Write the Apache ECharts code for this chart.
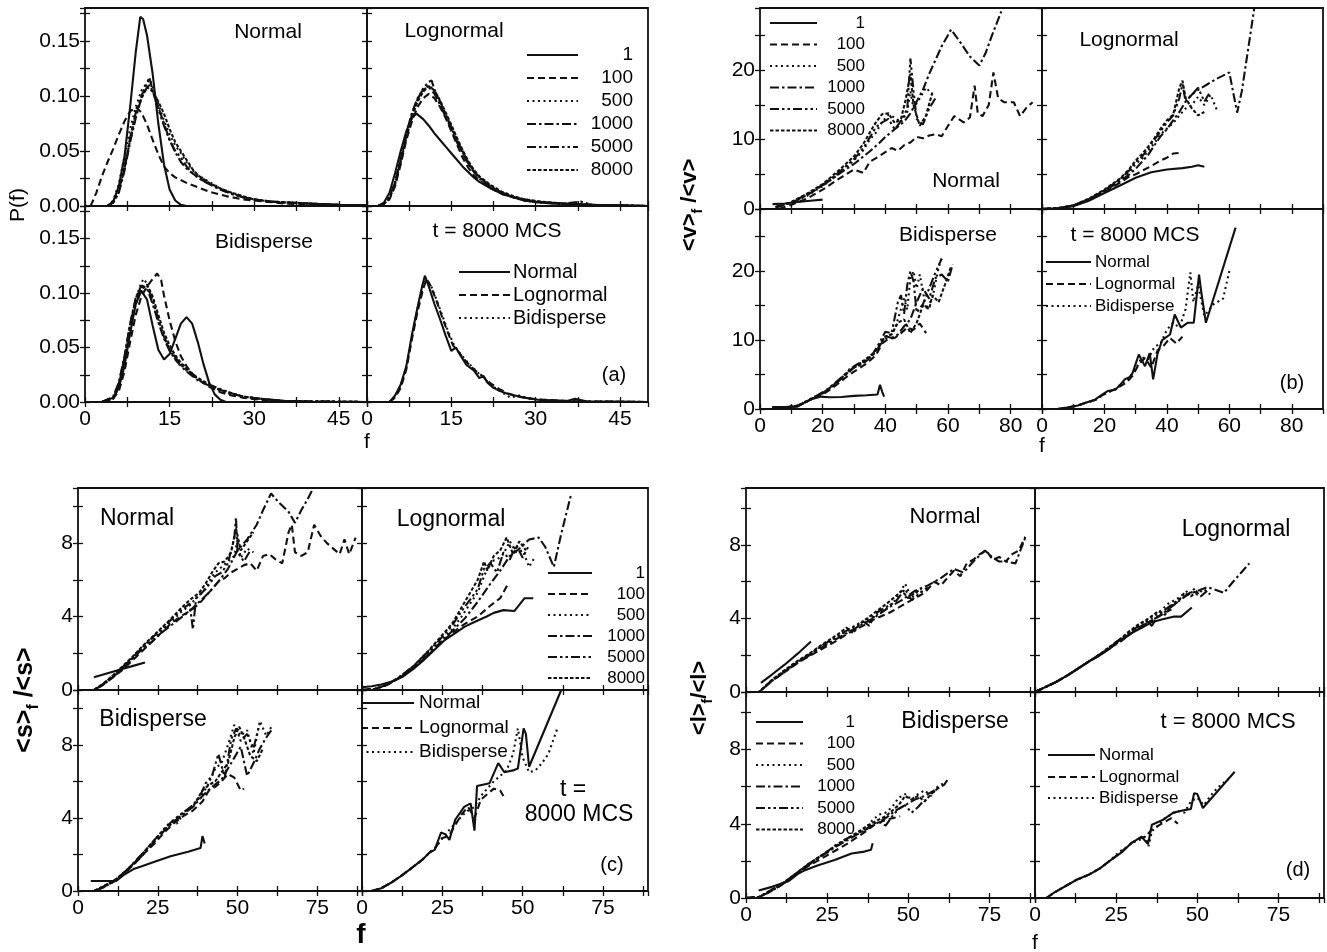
<!DOCTYPE html>
<html>
<head>
<meta charset="utf-8">
<title>Face-number dependence, panels a-d</title>
<script src="https://cdn.jsdelivr.net/npm/echarts/dist/echarts.min.js"></script>
<style>
  html, body { margin: 0; padding: 0; background: #fff; }
  #chart { width: 1327px; height: 952px; }
</style>
</head>
<body>
<div id="chart"></div>
<script>
  const FONT = '"Liberation Sans", Arial, sans-serif';

  const timeNames = ['1', '100', '500', '1000', '5000', '8000'];
  const shapeNames = ['Normal', 'Lognormal', 'Bidisperse'];

  // ---- panel (a): P(f) ----
  const aNorm1 = [[0,0],[4,0],[5,0.004],[6,0.018],[7,0.045],[8,0.09],[9,0.14],[9.8,0.172],[10.3,0.17],[11,0.155],[12,0.12],[13,0.075],[14,0.038],[15,0.015],[16,0.005],[17,0.001],[18,0],[50,0]];
  const aNorm100 = [[1,0],[2,0.012],[3,0.027],[4,0.04],[5,0.052],[6,0.065],[7,0.077],[8,0.086],[9,0.09],[10,0.085],[11,0.074],[12,0.06],[13,0.047],[14,0.036],[15,0.03],[16,0.026],[18,0.021],[20,0.017],[22,0.013],[25,0.009],[28,0.006],[32,0.004],[36,0.002],[40,0.0015],[45,0.001],[50,0.0005]];
  const aNorm500 = [[4,0],[5,0.005],[6,0.02],[7,0.045],[8,0.07],[9,0.09],[10,0.105],[11,0.112],[11.5,0.115],[12,0.108],[13,0.093],[14,0.078],[15,0.065],[16,0.055],[17,0.048],[18,0.04],[19,0.033],[20,0.028],[22,0.022],[24,0.016],[26,0.012],[28,0.008],[30,0.006],[33,0.004],[36,0.003],[40,0.002],[45,0.001],[50,0.0005]];
  const aNorm1000 = [[4,0],[5,0.003],[6,0.012],[7,0.032],[8,0.058],[9,0.08],[10,0.098],[11,0.108],[11.5,0.11],[12,0.104],[13,0.09],[14,0.075],[15,0.06],[16,0.049],[17,0.04],[18,0.034],[19,0.03],[20,0.026],[22,0.02],[24,0.015],[26,0.011],[28,0.008],[30,0.006],[33,0.004],[36,0.003],[40,0.002],[45,0.001],[50,0.0005]];
  const aNorm5000 = [[4,0],[5,0.004],[6,0.015],[7,0.036],[8,0.062],[9,0.085],[10,0.1],[11,0.112],[11.4,0.117],[12,0.105],[13,0.088],[14,0.073],[15,0.06],[16,0.05],[17,0.044],[18,0.036],[19,0.03],[20,0.026],[22,0.02],[24,0.015],[26,0.011],[28,0.008],[30,0.006],[33,0.004],[37,0.003],[41,0.002],[45,0.001],[50,0.0005]];
  const aNorm8000 = [[4,0],[5,0.003],[6,0.013],[7,0.034],[8,0.06],[9,0.083],[10,0.098],[11,0.108],[12,0.104],[13,0.095],[14,0.084],[15,0.07],[16,0.058],[17,0.05],[18,0.042],[19,0.034],[20,0.028],[22,0.021],[24,0.016],[26,0.012],[28,0.009],[30,0.006],[33,0.004],[37,0.003],[41,0.002],[45,0.001],[50,0.0005]];

  const aLog1 = [[0,0],[2,0],[3,0.003],[4,0.012],[5,0.03],[6,0.05],[7,0.068],[8,0.08],[8.8,0.084],[10,0.079],[11,0.073],[12,0.066],[13,0.06],[14,0.054],[15,0.048],[16,0.042],[17,0.036],[18,0.031],[19,0.026],[20,0.022],[22,0.016],[24,0.011],[26,0.008],[28,0.006],[30,0.004],[33,0.003],[36,0.002],[40,0.001],[45,0.0005],[50,0]];
  const aLog100 = [[2,0],[3,0.002],[4,0.006],[5,0.018],[6,0.038],[7,0.06],[8,0.077],[9,0.09],[10,0.098],[11,0.102],[12,0.098],[13,0.09],[14,0.08],[15,0.068],[16,0.056],[17,0.044],[18,0.035],[19,0.028],[20,0.023],[22,0.016],[24,0.011],[26,0.008],[28,0.005],[31,0.003],[35,0.002],[40,0.001],[45,0.0005],[50,0]];
  const aLog500 = [[2,0],[3,0.002],[4,0.007],[5,0.02],[6,0.04],[7,0.063],[8,0.082],[9,0.096],[10,0.105],[11,0.11],[12,0.104],[13,0.094],[14,0.083],[15,0.071],[16,0.06],[17,0.05],[18,0.04],[19,0.032],[20,0.026],[22,0.018],[24,0.012],[26,0.008],[28,0.005],[31,0.003],[35,0.002],[40,0.001],[45,0.0005],[50,0]];
  const aLog1000 = [[2,0],[3,0.002],[4,0.008],[5,0.022],[6,0.043],[7,0.066],[8,0.085],[9,0.098],[10,0.106],[11,0.108],[12,0.102],[13,0.092],[14,0.081],[15,0.07],[16,0.058],[17,0.048],[18,0.038],[19,0.031],[20,0.025],[22,0.017],[24,0.012],[26,0.008],[28,0.005],[31,0.003],[35,0.002],[40,0.001],[45,0.0005],[50,0]];
  const aLog5000 = [[2,0],[3,0.002],[4,0.007],[5,0.021],[6,0.042],[7,0.064],[8,0.083],[9,0.097],[10,0.107],[11,0.113],[11.5,0.114],[12,0.106],[13,0.095],[14,0.083],[15,0.072],[16,0.06],[17,0.049],[18,0.039],[19,0.032],[20,0.026],[22,0.018],[24,0.012],[26,0.008],[28,0.005],[31,0.003],[35,0.002],[38,0.004],[40,0.001],[45,0.0005],[50,0]];
  const aLog8000 = [[2,0],[3,0.002],[4,0.007],[5,0.02],[6,0.04],[7,0.062],[8,0.081],[9,0.095],[10,0.104],[11,0.109],[12,0.105],[13,0.096],[14,0.085],[15,0.074],[16,0.062],[17,0.051],[18,0.041],[19,0.033],[20,0.027],[22,0.019],[24,0.013],[26,0.009],[28,0.006],[31,0.004],[35,0.002],[40,0.001],[45,0.0005],[50,0]];

  const aBid1 = [[0,0],[3,0],[5,0.004],[6,0.013],[7,0.033],[8,0.063],[9,0.09],[10,0.102],[11,0.094],[12,0.07],[13,0.048],[14,0.039],[15,0.044],[16,0.058],[17,0.072],[18,0.078],[19,0.072],[20,0.055],[21,0.035],[22,0.018],[23,0.007],[24,0.002],[25,0],[50,0]];
  const aBid100 = [[3,0],[5,0.003],[6,0.01],[7,0.028],[8,0.055],[9,0.08],[10,0.097],[11,0.106],[12,0.113],[12.8,0.118],[13.5,0.112],[14,0.098],[15,0.075],[16,0.056],[17,0.042],[18,0.033],[19,0.026],[20,0.021],[22,0.014],[24,0.009],[26,0.006],[28,0.004],[31,0.002],[35,0.001],[40,0.0005],[50,0]];
  const aBid500 = [[3,0],[5,0.004],[6,0.016],[7,0.04],[8,0.07],[9,0.095],[10,0.11],[10.5,0.113],[11,0.108],[12,0.092],[13,0.075],[14,0.06],[15,0.048],[16,0.04],[17,0.034],[18,0.029],[19,0.025],[20,0.021],[22,0.015],[24,0.01],[26,0.007],[28,0.005],[31,0.003],[35,0.001],[40,0.0005],[50,0]];
  const aBid1000 = [[3,0],[5,0.005],[6,0.018],[7,0.042],[8,0.072],[9,0.096],[10,0.107],[11,0.104],[12,0.09],[13,0.073],[14,0.058],[15,0.047],[16,0.039],[17,0.033],[18,0.028],[19,0.024],[20,0.02],[22,0.015],[24,0.011],[26,0.008],[28,0.005],[31,0.003],[35,0.001],[40,0.0005],[50,0]];
  const aBid5000 = [[3,0],[5,0.004],[6,0.017],[7,0.041],[8,0.071],[9,0.094],[10,0.106],[11,0.107],[12,0.094],[13,0.076],[14,0.06],[15,0.049],[16,0.041],[17,0.035],[18,0.03],[19,0.026],[20,0.022],[22,0.016],[24,0.012],[26,0.008],[28,0.005],[31,0.003],[35,0.001],[40,0.0005],[50,0]];
  const aBid8000 = [[3,0],[5,0.003],[6,0.014],[7,0.037],[8,0.067],[9,0.09],[10,0.103],[11,0.108],[12,0.097],[13,0.08],[14,0.064],[15,0.052],[16,0.043],[17,0.036],[18,0.031],[19,0.026],[20,0.022],[22,0.016],[24,0.011],[26,0.008],[28,0.005],[31,0.003],[35,0.001],[40,0.0005],[50,0]];

  const aMcsNormal = [[0,0],[4,0],[5,0.006],[6,0.016],[7,0.033],[8,0.062],[9,0.087],[9.8,0.106],[10.3,0.116],[11,0.106],[12,0.09],[13,0.076],[14,0.061],[15,0.047],[15.8,0.05],[16.6,0.043],[17.7,0.034],[19,0.029],[20,0.022],[20.7,0.024],[21.4,0.018],[22.5,0.013],[23.7,0.01],[25,0.0075],[27.4,0.0045],[30.4,0.002],[35.6,0.001],[37,0.003],[39,0.0006],[45,0.0003],[50,0]];
  const aMcsLog = [[4,0],[5,0.004],[6,0.013],[7,0.03],[8,0.058],[9,0.083],[10,0.104],[10.6,0.113],[11.3,0.107],[12.3,0.094],[13.3,0.079],[14.3,0.065],[15.3,0.052],[16.3,0.046],[17.5,0.038],[19,0.03],[20.5,0.024],[22,0.017],[23.5,0.012],[25,0.008],[27,0.005],[30,0.0025],[35,0.001],[40,0.0005],[50,0]];
  const aMcsBid = [[4,0],[5,0.005],[6,0.015],[7,0.032],[8,0.06],[9,0.086],[10,0.106],[10.5,0.112],[11.3,0.108],[12.3,0.095],[13.5,0.078],[14.5,0.064],[15.5,0.052],[16.5,0.045],[18,0.036],[19.5,0.028],[21,0.021],[22.5,0.014],[24,0.009],[25.5,0.004],[27,0.006],[29,0.003],[33,0.001],[40,0.0005],[50,0]];

  // ---- panel (b): <v>_f / <v> ----
  const bNorm1 = [[4,0.7],[8,0.8],[12,1.0],[16,1.2],[20,1.35]];
  const bNorm100 = [[6,0],[10,0.6],[15,1.5],[20,2.8],[25,4.3],[30,5.7],[33,5.2],[35,6.8],[38,7.6],[40,8.2],[42,8.8],[44,8.4],[46,9.2],[48,9.6],[50,10.4],[52,10.2],[54,10.6],[56,10.8],[58,10.5],[60,12],[62,13.4],[65,12.5],[67,13.2],[68.5,17.8],[69.5,13.8],[71,13.4],[73,15],[74.5,19.7],[76,16],[78,15.4],[81,15.4],[83,13.4],[85,14.6],[87,15.4]];
  const bNorm500 = [[5,0.3],[10,0.9],[15,1.9],[20,3.3],[25,5],[30,7],[33,8.5],[35,10],[37,11],[39,12.6],[41,13.6],[43,13.2],[45,12.5],[47,14],[48,17],[49,14.5],[51,16],[53,17.5],[55,16.5]];
  const bNorm1000 = [[5,0.2],[10,0.9],[15,2],[20,3.4],[25,5],[30,6.5],[35,8.3],[38,9.5],[40,10.4],[43,11.5],[46,12.6],[48,13.8],[50,15.5],[52,17.2],[54,19.5],[56,21.5],[58,23.5],[61,25.9],[64,24],[67,22],[70,20.7],[72,22.5],[74,25],[77,28.5]];
  const bNorm5000 = [[5,0.3],[10,1],[15,2.1],[20,3.5],[25,5.2],[30,7.2],[33,8.8],[35,10.3],[37,11.8],[39,12.5],[41,13],[43,11.5],[45,12.7],[47,14.5],[48,21.7],[49,17],[50,13],[52,12.2],[54,14.5],[56,16]];
  const bNorm8000 = [[5,0.3],[10,1],[15,2.2],[20,3.6],[25,5.5],[30,7.6],[33,9.4],[35,11],[37,12.5],[39,13.7],[41,13.8],[43,12.4],[45,13],[46.5,15.8],[48,19.5],[49,15],[51,12],[53,13.5],[55,16.8]];

  const bLog1 = [[0,0],[5,0.1],[10,0.4],[15,1.2],[20,2.3],[25,3.4],[30,4.5],[35,5.3],[40,5.7],[45,5.9],[48,6.1],[50,6.3],[52,6.1]];
  const bLog100 = [[0,0],[5,0.1],[10,0.5],[15,1.3],[20,2.5],[25,3.8],[28,4.7],[30,5],[32,5.5],[35,6.2],[38,7],[40,7.4],[42,8],[44,8.1]];
  const bLog500 = [[0,0],[5,0.1],[10,0.5],[15,1.4],[20,2.7],[25,4.2],[28,5.3],[30,6.5],[32,7.2],[34,8.4],[36,9.5],[38,10.8],[40,11.6],[42,12.4],[44,13.5],[46,14.5],[48,15],[50,16.2],[52,15],[54,16.5],[56,14.3]];
  const bLog1000 = [[0,0],[5,0.1],[10,0.5],[15,1.4],[20,2.6],[25,4],[28,5],[30,5.8],[32,6.8],[34,7.8],[36,9.2],[38,10.5],[40,11.5],[42,12.8],[44,14],[46,15.5],[48,16.5],[50,17.2],[53,18],[56,18.8],[60,19.7],[62.5,13.9],[64,17],[66,23],[68,29]];
  const bLog5000 = [[0,0],[5,0.1],[10,0.5],[15,1.4],[20,2.7],[25,4.3],[28,5.6],[30,6.8],[32,7.5],[34,8.8],[36,10],[38,11.2],[40,12.5],[42,13.5],[44,16],[45,18],[46,15.5],[48,16.5],[50,17.5],[52,15.5],[54,17]];
  const bLog8000 = [[0,0],[5,0.1],[10,0.5],[15,1.5],[20,2.8],[25,4.4],[28,5.8],[30,7],[32,7.9],[34,9],[36,10.2],[38,11.6],[40,12.8],[42,13.6],[44,17.5],[45,18.5],[46,16],[48,14.5],[50,13.5],[52,14]];

  const bBid1 = [[4,0.3],[8,0.3],[11,0.35],[13,0.7],[15,1.1],[17,1.5],[19.5,1.8],[22,1.7],[26,1.75],[30,1.9],[34,2],[37.5,2.1],[38.3,3.5],[39,2.5],[39.6,1.8]];
  const bBid100 = [[4,0.2],[8,0.25],[12,0.4],[15,1.1],[18,1.8],[20,2.1],[22,2.7],[25,3.7],[28,4.8],[31,5.7],[34,6.6],[37,7.8],[39,9.5],[41,10.2],[43,10.3],[45,11],[47,11.8],[49,11.5],[51,12.4],[53,11]];
  const bBid500 = [[4,0.2],[8,0.25],[12,0.5],[15,1.2],[18,1.9],[21,2.6],[24,3.6],[27,4.9],[29,6],[31,6.1],[33,6.8],[35,7.6],[37,8.5],[39,9.6],[41,10.5],[43,11.5],[45,14.5],[46,16],[47,14.4],[48,19],[49,20],[50,17.5],[51,19.5],[53,14.5],[55,16],[57,20.5],[58,22]];
  const bBid1000 = [[4,0.2],[8,0.25],[12,0.4],[15,1.1],[18,1.8],[21,2.5],[24,3.6],[27,4.8],[30,6],[33,6.6],[36,7.8],[38,9],[40,10.6],[42,10.3],[44,10.8],[46,12],[48,13],[50,15.5],[52,17.5],[54,16],[56,19],[58,19.5],[60,18.5],[61.5,21]];
  const bBid5000 = [[4,0.2],[8,0.25],[12,0.4],[15,1.1],[18,1.9],[21,2.7],[24,3.8],[27,5],[30,6.2],[33,7],[36,8],[38,9.5],[40,11.2],[42,11],[44,15.5],[45,16.5],[46,13.8],[47,18],[48,20],[49,18.5],[50,14],[52,15.2],[54,17.5],[56,19.8],[58,21.8]];
  const bBid8000 = [[4,0.2],[8,0.25],[12,0.4],[15,1.1],[18,1.8],[21,2.6],[24,3.7],[27,4.9],[30,6.1],[33,6.9],[36,7.9],[38,9.2],[40,10.5],[42,10.8],[44,12.5],[46,13],[48,11],[50,12.5],[52,15],[54,14.5],[55,16.5],[57,15.5],[59,18],[61,20.7]];

  const bMcsNormal = [[5,0],[8,0.2],[11.5,0.5],[14,0.9],[17,1.35],[19,2],[21,2.6],[23.5,2.8],[25,3.5],[26.5,4.3],[28,4.6],[29,5.2],[31,7.9],[33,6.2],[34.5,8.1],[35.6,4.3],[37,8],[38.5,10],[41,10.8],[42.5,13.7],[44.5,11.8],[46.6,12.5],[48.6,12.5],[50.3,19.5],[51,17],[52.5,12.5],[62,26.3]];
  const bMcsLog = [[5,0],[8,0.2],[11.5,0.5],[14,0.9],[17,1.3],[19,1.9],[21,2.4],[23.5,2.9],[25,3.3],[27,3.8],[29,4.8],[31,6.5],[33,7.4],[35,6],[37,8.5],[39,9.2],[41,10.3],[43,9.5],[45,10.5]];
  const bMcsBid = [[5,0],[8,0.2],[11.5,0.5],[14,0.9],[17,1.3],[19,1.9],[21,2.4],[23.5,2.9],[26,3.9],[28,4.5],[30,5.8],[32,7.5],[34,7.2],[36,9],[38,9.5],[40,11.5],[42,12.5],[44,11.8],[46,14.5],[47.5,19.8],[48.5,15.5],[50,18],[52,13.5],[55,15.2],[58,16],[60,20]];

  // ---- panel (c): <s>_f / <s> ----
  const cNorm1 = [[5,0.7],[9,0.9],[13,1.1],[17,1.3],[21,1.5]];
  const cNorm100 = [[0,0],[5,0],[8,0.3],[11,0.7],[14,1.1],[17,1.6],[20,2.1],[23,2.6],[26,3.1],[29,3.6],[32,4],[35,4.3],[38,4.7],[40,5.1],[42,5.5],[44,5.9],[46,6.1],[48,6.4],[50,6.6],[52,6.8],[54,6.9],[56,6.5],[58,7.3],[60,7.4],[62,7.1],[64,6.9],[66,8.6],[67,9],[68,7.5],[70,7.3],[72,7.5],[74,9],[76,8.4],[78,8],[80,7.7],[82,7.4],[83.5,8.2],[85,7.4],[87,8.3]];
  const cNorm500 = [[0,0],[5,0],[8,0.35],[11,0.75],[14,1.2],[17,1.7],[20,2.2],[23,2.7],[26,3.2],[29,3.7],[32,4.2],[35,4.6],[37,5],[39,5.3],[41,5.9],[43,6.4],[45,6.7],[47,7],[49,7.3],[50,8.2],[51,7.2],[53,7.7],[55,7.5]];
  const cNorm1000 = [[0,0],[5,0],[8,0.3],[11,0.7],[14,1.2],[17,1.7],[20,2.2],[23,2.6],[26,3.1],[29,3.5],[32,3.9],[35,4.3],[38,4.8],[41,5.3],[44,5.9],[47,6.6],[50,7.6],[53,8.2],[56,9],[58,9.8],[60.5,10.7],[63,10.2],[66,9.7],[68,9.1],[70,9.8],[72,10.4],[74.3,11.2]];
  const cNorm5000 = [[0,0],[5,0],[8,0.35],[11,0.8],[14,1.25],[17,1.75],[20,2.3],[23,2.8],[26,3.3],[29,3.8],[32,4.3],[35,4.7],[36,3.3],[37,5],[40,5.5],[43,6.2],[45,6.4],[47,6.9],[49,8.3],[49.5,9.4],[50,7.5],[52,7],[54,7.6]];
  const cNorm8000 = [[0,0],[5,0],[8,0.35],[11,0.8],[14,1.3],[17,1.8],[20,2.35],[23,2.85],[26,3.35],[29,3.85],[32,4.4],[35,4.9],[38,5.3],[40,5.8],[42,6.4],[44,6.9],[46,7],[48,7.5],[49.5,8.8],[51,7.6],[53,8.1],[55,8.6]];

  const cLog1 = [[0,0.15],[3,0.2],[6,0.3],[9,0.45],[12.5,0.7],[16,1.15],[19,1.6],[22,2.1],[25.6,2.7],[29,3.1],[32,3.45],[35,3.7],[38.8,4],[41,4.2],[44,4.35],[47.4,4.3],[50.6,5],[53.3,5]];
  const cLog100 = [[0,0],[4,0.05],[8,0.3],[12,0.7],[16,1.2],[20,1.8],[24,2.5],[28,3.1],[32,3.6],[36,4],[40,4.6],[43,5],[45.5,5.8]];
  const cLog500 = [[0,0],[4,0.05],[8,0.3],[12,0.7],[16,1.25],[20,1.9],[24,2.6],[28,3.3],[31,4],[34,4.8],[36,5.3],[38,6.2],[40,7],[42,7.1],[44,7.4],[46,8.1],[48,7.5],[50,7.6],[52,6.7],[54,7.3]];
  const cLog1000 = [[0,0],[4,0.05],[8,0.3],[12,0.7],[16,1.2],[20,1.85],[24,2.5],[28,3.2],[32,3.9],[36,4.8],[40,5.8],[43,6.5],[46,7.3],[49,7.7],[52,8.2],[55,8.3],[57,7.8],[59.7,6.7],[62,8.5],[65,10.6]];
  const cLog5000 = [[0,0],[4,0.05],[8,0.3],[12,0.75],[16,1.3],[20,2],[24,2.7],[28,3.5],[31,4.3],[34,5],[36,5.5],[38,6.6],[40,6.9],[42,6.4],[44,7.5],[46,7.1],[48,7.9],[50,7.2],[52,7.9]];
  const cLog8000 = [[0,0],[4,0.05],[8,0.3],[12,0.75],[16,1.3],[20,2],[24,2.8],[28,3.6],[31,4.5],[34,5.4],[36,6],[38,7],[39,6.5],[41,7.3],[43,7.6],[45,8.3],[47,7.4],[49,8.1],[51,7.6]];

  const cBid1 = [[4,0.55],[12,0.55],[14.5,0.9],[17.4,1.2],[20,1.35],[24,1.6],[29,1.9],[34.5,2.15],[38.4,2.35],[39,3],[39.7,2.6]];
  const cBid100 = [[0,0],[5,0],[8,0.2],[12,0.6],[15,1.05],[18,1.55],[21,2.1],[24,2.6],[27,3.2],[30,3.7],[33,4.1],[36,4.4],[39,4.9],[41,5.5],[43,5.7],[45,6],[47,6.4],[49,6.2],[51,5.5],[52,5.6]];
  const cBid500 = [[0,0],[5,0],[8,0.25],[12,0.65],[15,1.1],[18,1.6],[21,2.15],[24,2.75],[27,3.4],[29,3.8],[31,3.7],[33,4.2],[36,4.7],[39,5.3],[41,5.9],[43,6.7],[45,7],[47,8],[49,9.1],[51,8.5],[53,8.8],[55,7.5],[57,9.3],[59,8.5],[61,9.1]];
  const cBid1000 = [[0,0],[5,0],[8,0.2],[12,0.6],[15,1.05],[18,1.55],[21,2.1],[24,2.7],[27,3.3],[30,3.8],[33,4.2],[36,4.6],[39,5.2],[42,5.7],[45,6.1],[47,6.7],[49,7.3],[51,7.9],[53,6.3],[55,7],[57,7.8],[59,8.4],[61,8.9]];
  const cBid5000 = [[0,0],[5,0],[8,0.25],[12,0.65],[15,1.1],[18,1.65],[21,2.2],[24,2.8],[27,3.4],[30,3.9],[33,4.3],[36,4.7],[38,5.1],[40,5.9],[42,6.3],[44,7.5],[46,6.2],[48,8.3],[49.6,8.9],[51,8.2],[53,8.6],[55,7.8],[56.8,9.1]];
  const cBid8000 = [[0,0],[5,0],[8,0.25],[12,0.65],[15,1.1],[18,1.6],[21,2.2],[24,2.8],[27,3.35],[30,3.85],[33,4.3],[36,4.6],[39,5.5],[41,5.8],[43,6],[45,6.5],[47,7],[49,8.4],[50.5,9],[52,8.4],[54,7.4],[56,7.1],[58,7.8]];

  const cMcsNormal = [[3,0],[6,0.15],[9,0.45],[12,0.8],[15,1.2],[18.7,1.7],[21,2.1],[22.6,2.25],[24.6,3.2],[26,3.1],[27.2,2.8],[29,3.9],[31.8,4.6],[33.8,4.8],[35,3.3],[35.8,5.75],[39.7,5.9],[42.4,7],[44.3,6.5],[47,6.6],[48.5,6.7],[50.3,8.9],[51,8.6],[52,6.8],[62,11]];
  const cMcsLog = [[3,0],[6,0.15],[9,0.45],[12,0.8],[15,1.2],[18.7,1.7],[21,2.1],[23,2.4],[25,2.9],[27,3],[29,3.6],[31,4.2],[33,4.6],[35,4],[37,5],[39,5.3],[41,5.6],[43,5.5],[44,5.2]];
  const cMcsBid = [[3,0],[6,0.15],[9,0.45],[12,0.8],[15,1.2],[18.7,1.7],[21,2.1],[23,2.4],[25,2.9],[27,3.3],[29,3.7],[31,4.1],[33,4.4],[35,4.6],[37,5.2],[39,5.6],[41,6],[43,6.3],[45,6.6],[47,7.5],[48.5,8.9],[50,7.3],[52,6.5],[54,6.6],[56,7],[58,7.5],[60.8,8.9]];

  // ---- panel (d): <l>_f / <l> ----
  const dNorm1 = [[4.6,0.5],[8,0.95],[12,1.5],[16,2.1],[20,2.75]];
  const dNorm100 = [[0,0],[4,0],[8,0.6],[12,1.1],[16,1.6],[20,2],[24,2.4],[28,2.8],[32,3.25],[36,3.6],[40,4],[44,4.3],[48,4.7],[52,5.1],[55,5.4],[58,6],[60,5.8],[62,6.2],[64,6.6],[66,6.3],[68,7],[70,7.2],[72,7.5],[74,7.7],[76,7.2],[78,7.35],[80,7.1],[82,7.5],[84,7.7],[86,8.45]];
  const dNorm500 = [[0,0],[4,0],[8,0.65],[12,1.2],[16,1.7],[20,2.1],[24,2.55],[28,3],[32,3.4],[36,3.8],[40,4.2],[43,4.5],[46,5],[49,5.9],[51,5.1],[53,5.5],[55,5.4]];
  const dNorm1000 = [[0,0],[4,0],[8,0.6],[12,1.1],[16,1.6],[20,2.05],[24,2.5],[28,2.9],[32,3.3],[36,3.7],[40,4.1],[44,4.6],[48,5],[52,5.5],[56,5.8],[60,6.2],[64,6.7],[67,6.5],[70,7.1],[73.6,7.7],[76,7.3],[78,7.1],[80,7.1],[83,7],[86,8.4]];
  const dNorm5000 = [[0,0],[4,0],[8,0.65],[12,1.15],[16,1.65],[20,2.1],[24,2.6],[28,3],[32,3.45],[36,3.85],[38,3.6],[40,4.3],[43,4.6],[46,4.9],[49,5.6],[51,5],[53,5.3],[56,5.7]];
  const dNorm8000 = [[0,0],[4,0],[8,0.65],[12,1.2],[16,1.7],[20,2.15],[24,2.65],[28,3.1],[31,3.5],[33,3.2],[35,3.7],[38,4.1],[41,4.5],[44,4.9],[46,5.2],[48,5.5],[50,5.1],[52,5.4],[54,5.6]];

  const dLog1 = [[0,0],[3,0.25],[6,0.5],[10,0.9],[13,1.25],[16.5,1.65],[20,2],[23,2.35],[26,2.8],[29.6,3.2],[33,3.5],[36,3.8],[39,3.95],[42.6,4.1],[45,4.1],[48.3,4.6]];
  const dLog100 = [[0,0],[3,0.25],[6,0.5],[10,0.9],[13,1.25],[16.5,1.65],[20,2],[23,2.4],[26,2.7],[29,3.1],[32,3.5],[35,3.8],[38,4.1],[40,4.3],[42,4.5]];
  const dLog500 = [[0,0],[3,0.25],[6,0.5],[10,0.9],[13,1.25],[16.5,1.65],[20,2.05],[23,2.45],[26,2.8],[29,3.2],[32,3.6],[35,3.9],[38,4.3],[41,4.8],[44,5.1],[47,5.5],[50,5.3],[52,5.6],[54,5.3]];
  const dLog1000 = [[0,0],[3,0.25],[6,0.5],[10,0.9],[13,1.25],[16.5,1.65],[20,2.05],[23,2.4],[26,2.75],[29,3.1],[32,3.5],[35,3.8],[38,4.1],[41,4.5],[44,4.9],[47,5.3],[50,5.5],[53,5.7],[55,5.6],[58.2,5.4],[61,6],[64,6.6],[66,7]];
  const dLog5000 = [[0,0],[3,0.25],[6,0.5],[10,0.9],[13,1.25],[16.5,1.65],[20,2.05],[23,2.45],[26,2.85],[29,3.25],[32,3.6],[34,3.9],[36,3.6],[38,4.2],[41,4.6],[44,5],[47,5.3],[49,5.6],[51,5.2],[53,5.5]];
  const dLog8000 = [[0,0],[3,0.25],[6,0.5],[10,0.9],[13,1.25],[16.5,1.65],[20,2.05],[23,2.45],[26,2.85],[29,3.3],[32,3.7],[35,4],[38,4.4],[40,4.2],[42,4.7],[44,4.9],[46,5.4],[48,5.2],[50,5.5]];

  const dBid1 = [[3.9,0.4],[8,0.6],[13,0.9],[16,1.3],[18.2,1.5],[22,1.75],[27.3,2.05],[32.5,2.4],[36.5,2.5],[38.5,2.6],[39,2.95]];
  const dBid100 = [[0,0],[4,0.05],[7,0.3],[10,0.6],[13,0.95],[16,1.35],[19,1.7],[22,2],[25,2.3],[28,2.6],[31,2.9],[34,3.25],[37,3.6],[40,4],[43,4.2],[45,4.3],[47.5,4.4]];
  const dBid500 = [[0,0],[4,0.05],[7,0.35],[10,0.65],[13,1],[16,1.4],[19,1.8],[22,2.15],[25,2.5],[28,2.85],[31,3.2],[34,3.5],[37,3.8],[39,4.2],[41,4.5],[43,4.6],[45,4.9],[47,5.4],[49,5.6],[51,5.3],[53,5.6],[55,5.8],[57,5.5],[59,6],[61,6.2]];
  const dBid1000 = [[0,0],[4,0.05],[7,0.3],[10,0.6],[13,0.95],[16,1.35],[19,1.75],[22,2.1],[25,2.45],[28,2.8],[31,3.1],[34,3.4],[37,3.7],[40,4],[43,4.3],[46,4.7],[49,5],[52,5.3],[55,5.5],[58,5.8],[61,6.1],[62,6.35]];
  const dBid5000 = [[0,0],[4,0.05],[7,0.35],[10,0.65],[13,1],[16,1.4],[19,1.8],[22,2.15],[25,2.5],[28,2.9],[31,3.2],[34,3.45],[37,3.7],[39,4],[41,4.1],[43,3.9],[45,4.4],[47,4.8],[49,5],[51,4.6],[53,4.9],[55,5.3]];
  const dBid8000 = [[0,0],[4,0.05],[7,0.35],[10,0.65],[13,1],[16,1.4],[19,1.8],[22,2.15],[25,2.5],[28,2.85],[31,3.15],[34,3.5],[37,3.85],[40,4.15],[43,4.4],[45,4.7],[47,5],[49,5.5],[51,5.3],[53,5.5],[55,5.2],[57,5.6],[59,5.9]];

  const dMcsNormal = [[3.5,0],[6,0.3],[10,0.7],[13,1],[16.5,1.25],[20,1.6],[23,2],[27,2.5],[29.6,2.95],[31,3.1],[32.8,3.3],[34.8,2.9],[36,3.95],[39.3,4.2],[42.6,4.6],[46.5,4.75],[48,4.8],[49,5.65],[50,5.6],[51.7,4.85],[61.5,6.8]];
  const dMcsLog = [[3.5,0],[6,0.3],[10,0.7],[13,1],[16.5,1.25],[20,1.6],[23,2],[26,2.4],[28,2.7],[30,3],[32,3.2],[34,3.3],[36,3.7],[38,3.9],[40,4.1],[42,4.3],[44,4]];
  const dMcsBid = [[3.5,0],[6,0.3],[10,0.7],[13,1],[16.5,1.25],[20,1.6],[23,2],[26,2.5],[28,2.7],[30,3],[32,3.1],[34,3.3],[35,2.8],[36,3.6],[38,3.9],[40,4.3],[42,4.5],[44,4.7],[46,4.6],[48,5.2],[50,5.4],[52,5],[54,5.5],[56,5.9],[58,6.2],[59.5,6.4]];

  // line pattern per curve label
  const dash = {
    '1': null, '100': [7, 4], '500': [2, 3.5], '1000': [9, 3, 2.5, 3],
    '5000': [9, 3, 2.5, 3, 2.5, 3], '8000': [3.5, 2],
    Normal: null, Lognormal: [7, 4], Bidisperse: [2, 3.5]
  };

  // frame edges of each 2x2 block (px) and its axis ranges
  const panels = [
    { xs: [85, 367, 648], ys: [8, 206, 402], xMax: 50, xStep: 7.5, xMajor: 15, yMax: 0.18, yStep: 0.025, yMajor: 0.05, digits: 2 },
    { xs: [760, 1042, 1323], ys: [8, 209, 409], xMax: 90, xStep: 10, xMajor: 20, yMax: 29, yStep: 5, yMajor: 10, digits: 0 },
    { xs: [78, 362, 648], ys: [488, 690, 891], xMax: 89, xStep: 12.5, xMajor: 25, yMax: 11, yStep: 2, yMajor: 4, digits: 0 },
    { xs: [746, 1035, 1324], ys: [488, 692, 898], xMax: 89, xStep: 12.5, xMajor: 25, yMax: 11.1, yStep: 2, yMajor: 4, digits: 0 }
  ];

  const tSet = (a, b, c, d, e, f) => [['1', a], ['100', b], ['500', c], ['1000', d], ['5000', e], ['8000', f]];
  const sSet = (a, b, c) => [['Normal', a], ['Lognormal', b], ['Bidisperse', c]];

  const subplots = [
    { p: 0, row: 0, col: 0, lines: tSet(aNorm1, aNorm100, aNorm500, aNorm1000, aNorm5000, aNorm8000) },
    { p: 0, row: 0, col: 1, lines: tSet(aLog1, aLog100, aLog500, aLog1000, aLog5000, aLog8000) },
    { p: 0, row: 1, col: 0, lines: tSet(aBid1, aBid100, aBid500, aBid1000, aBid5000, aBid8000) },
    { p: 0, row: 1, col: 1, lines: sSet(aMcsNormal, aMcsLog, aMcsBid) },
    { p: 1, row: 0, col: 0, lines: tSet(bNorm1, bNorm100, bNorm500, bNorm1000, bNorm5000, bNorm8000) },
    { p: 1, row: 0, col: 1, lines: tSet(bLog1, bLog100, bLog500, bLog1000, bLog5000, bLog8000) },
    { p: 1, row: 1, col: 0, lines: tSet(bBid1, bBid100, bBid500, bBid1000, bBid5000, bBid8000) },
    { p: 1, row: 1, col: 1, lines: sSet(bMcsNormal, bMcsLog, bMcsBid) },
    { p: 2, row: 0, col: 0, lines: tSet(cNorm1, cNorm100, cNorm500, cNorm1000, cNorm5000, cNorm8000) },
    { p: 2, row: 0, col: 1, lines: tSet(cLog1, cLog100, cLog500, cLog1000, cLog5000, cLog8000) },
    { p: 2, row: 1, col: 0, lines: tSet(cBid1, cBid100, cBid500, cBid1000, cBid5000, cBid8000) },
    { p: 2, row: 1, col: 1, lines: sSet(cMcsNormal, cMcsLog, cMcsBid) },
    { p: 3, row: 0, col: 0, lines: tSet(dNorm1, dNorm100, dNorm500, dNorm1000, dNorm5000, dNorm8000) },
    { p: 3, row: 0, col: 1, lines: tSet(dLog1, dLog100, dLog500, dLog1000, dLog5000, dLog8000) },
    { p: 3, row: 1, col: 0, lines: tSet(dBid1, dBid100, dBid500, dBid1000, dBid5000, dBid8000) },
    { p: 3, row: 1, col: 1, lines: sSet(dMcsNormal, dMcsLog, dMcsBid) }
  ];

  const isMajor = (v, step) => Math.abs(v / step - Math.round(v / step)) < 1e-6;

  const tickStyle = { show: true, inside: true, length: 5, lineStyle: { color: '#111', width: 1.3 } };

  const grids = [], xAxes = [], yAxes = [], series = [];

  subplots.forEach((sp, g) => {
    const p = panels[sp.p];
    grids.push({
      left: p.xs[sp.col], top: p.ys[sp.row],
      width: p.xs[sp.col + 1] - p.xs[sp.col], height: p.ys[sp.row + 1] - p.ys[sp.row],
      show: true, borderColor: '#111', borderWidth: 1.8, backgroundColor: 'transparent'
    });
    const xBase = { type: 'value', gridIndex: g, min: 0, max: p.xMax, interval: p.xStep,
      axisLine: { show: false }, splitLine: { show: false }, axisTick: tickStyle };
    const yBase = { type: 'value', gridIndex: g, min: 0, max: p.yMax, interval: p.yStep,
      axisLine: { show: false }, splitLine: { show: false }, axisTick: tickStyle };
    xAxes.push(Object.assign({}, xBase, {
      position: 'bottom',
      axisLabel: { show: sp.row === 1, showMaxLabel: false, margin: 7, color: '#000', fontSize: 21, fontFamily: FONT,
        formatter: v => isMajor(v, p.xMajor) ? String(Math.round(v)) : '' }
    }));
    xAxes.push(Object.assign({}, xBase, { position: 'top', axisLabel: { show: false } }));
    yAxes.push(Object.assign({}, yBase, {
      position: 'left',
      axisLabel: { show: sp.col === 0, showMaxLabel: false, margin: 5, color: '#000', fontSize: 21, fontFamily: FONT,
        formatter: v => isMajor(v, p.yMajor) ? v.toFixed(p.digits) : '' }
    }));
    yAxes.push(Object.assign({}, yBase, { position: 'right', axisLabel: { show: false } }));

    sp.lines.forEach(([name, data]) => {
      series.push({
        type: 'line', name, xAxisIndex: 2 * g, yAxisIndex: 2 * g, data,
        symbol: 'none', clip: true, silent: true, animation: false,
        lineStyle: { color: '#111', width: 2.1, type: dash[name] || 'solid' }
      });
    });
  });

  // text helpers for labels drawn on top of the grids
  function label(x, y, text, size, align, weight) {
    return {
      type: 'text', x, y, silent: true, z: 20,
      style: { text, fill: '#000', font: (weight || 'normal') + ' ' + size + 'px ' + FONT,
        textAlign: align || 'center', align: align || 'center',
        textVerticalAlign: 'middle', verticalAlign: 'middle' }
    };
  }
  function legend(x1, x2, textX, align, rows, names, size) {
    const out = [];
    names.forEach((n, i) => {
      out.push({ type: 'line', silent: true, z: 20,
        shape: { x1, y1: rows[i], x2, y2: rows[i] },
        style: { stroke: '#111', lineWidth: 2.1, lineDash: dash[n] } });
      out.push(label(textX, rows[i], n, size, align));
    });
    return out;
  }
  function yTitle(x, y, main1, main2, size) {
    return {
      type: 'text', x, y, rotation: Math.PI / 2, silent: true, z: 20,
      style: {
        text: '{m|' + main1 + '}{s|f}{m|' + main2 + '}', fill: '#000',
        textAlign: 'center', align: 'center', textVerticalAlign: 'middle', verticalAlign: 'middle',
        rich: {
          m: { fontSize: size, fontWeight: 'bold', fontFamily: FONT, lineHeight: size + 8 },
          s: { fontSize: Math.round(size * 0.65), fontWeight: 'bold', fontFamily: FONT, verticalAlign: 'bottom', lineHeight: Math.round(size * 0.7) }
        }
      }
    };
  }

  const texts = [
    // (a)
    label(268, 32, 'Normal', 21), label(454, 31, 'Lognormal', 21),
    label(264, 242, 'Bidisperse', 21), label(497, 231, 't = 8000 MCS', 21),
    label(614, 375, '(a)', 20),
    ...legend(527, 578, 633, 'right', [55, 78, 101, 124, 147, 170], timeNames, 19),
    ...legend(459, 510, 513, 'left', [272, 295, 318], shapeNames, 20),
    Object.assign(label(18, 205, 'P(f)', 21), { rotation: Math.PI / 2 }),
    label(367, 442, 'f', 21),
    // (b)
    label(966, 181, 'Normal', 21), label(1129, 40, 'Lognormal', 21),
    label(948, 235, 'Bidisperse', 21), label(1135, 235, 't = 8000 MCS', 21),
    label(1292, 383, '(b)', 20),
    ...legend(770, 817, 865, 'right', [23, 44.5, 66, 87.5, 109, 130.5], timeNames, 17),
    ...legend(1046, 1091, 1095, 'left', [262, 284, 306], shapeNames, 17),
    yTitle(690, 205, '<v>', ' /<v>', 22),
    label(1042, 446, 'f', 21),
    // (c)
    label(137, 519, 'Normal', 23), label(451, 520, 'Lognormal', 23),
    label(153, 720, 'Bidisperse', 23),
    label(573, 790, 't =', 23), label(579, 815, '8000 MCS', 23),
    label(612, 865, '(c)', 20),
    ...legend(548, 592, 645, 'right', [573, 594, 615, 636, 657, 678], timeNames, 17),
    ...legend(361, 414, 419, 'left', [703, 728, 752], shapeNames, 19),
    yTitle(25, 700, '<s>', ' /<s>', 25),
    label(361, 935, 'f', 28, 'center', 'bold'),
    // (d)
    label(945, 517, 'Normal', 22), label(1236, 530, 'Lognormal', 23),
    label(955, 722, 'Bidisperse', 23), label(1228, 722, 't = 8000 MCS', 22),
    label(1298, 870, '(d)', 20),
    ...legend(756, 803, 855, 'right', [722, 743.5, 765, 786.5, 808, 829.5], timeNames, 17),
    ...legend(1048, 1095, 1099, 'left', [755, 777, 798], shapeNames, 17),
    yTitle(700, 698, '<l>', '/<l>', 22),
    label(1035, 943, 'f', 21)
  ];

  const chart = echarts.init(document.getElementById('chart'));
  chart.setOption({
    animation: false,
    backgroundColor: '#fff',
    grid: grids,
    xAxis: xAxes,
    yAxis: yAxes,
    series,
    graphic: { elements: texts }
  });
</script>
</body>
</html>
